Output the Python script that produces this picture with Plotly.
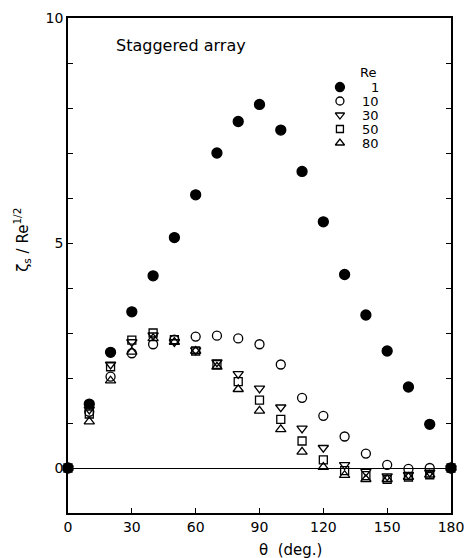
import plotly.graph_objects as go

theta = [0, 10, 20, 30, 40, 50, 60, 70, 80, 90, 100, 110, 120, 130, 140, 150, 160, 170, 180]
re_labels = ["1", "10", "30", "50", "80"]
re1 = [0, 1.42, 2.57, 3.47, 4.27, 5.12, 6.07, 7.0, 7.7, 8.08, 7.51, 6.59, 5.47, 4.3, 3.4, 2.6, 1.8, 0.97, 0]
re10 = [0, 1.25, 2.03, 2.55, 2.75, 2.85, 2.92, 2.94, 2.88, 2.75, 2.3, 1.56, 1.16, 0.7, 0.32, 0.07, -0.02, 0.0, 0]
re30 = [0, 1.3, 2.3, 2.8, 2.95, 2.8, 2.62, 2.35, 2.09, 1.77, 1.35, 0.88, 0.45, 0.07, -0.08, -0.18, -0.15, -0.1, 0]
re50 = [0, 1.2, 2.25, 2.84, 3.0, 2.85, 2.6, 2.3, 1.92, 1.51, 1.08, 0.6, 0.18, -0.06, -0.17, -0.25, -0.2, -0.15, 0]
re80 = [0, 1.03, 1.94, 2.58, 2.88, 2.8, 2.6, 2.25, 1.75, 1.27, 0.86, 0.36, 0.02, -0.16, -0.25, -0.25, -0.2, -0.15, 0]
x_ticks = [0, 30, 60, 90, 120, 150, 180]
y_ticks = [0, 5, 10]
y_minor_ticks = [1, 2, 3, 4, 6, 7, 8, 9]

series = [re1, re10, re30, re50, re80]
symbols = ["circle", "circle-open", "triangle-down-open", "square-open", "triangle-up-open"]
sizes = [10, 9, 9, 8, 9]

FONT = "DejaVu Sans"
fig = go.Figure()

for vals, sym, sz, lab in zip(series, symbols, sizes, re_labels):
    fig.add_trace(go.Scatter(
        x=theta, y=vals, mode="markers", name=lab, showlegend=False,
        marker=dict(symbol=sym, size=sz, color="black", line=dict(width=1.3, color="black")),
        cliponaxis=False,
    ))

# legend key markers drawn on a hidden helper axis
rows = list(range(len(re_labels)))
for i, (sym, sz) in enumerate(zip(symbols, sizes)):
    fig.add_trace(go.Scatter(
        x=[0], y=[rows[i]], mode="markers", showlegend=False, xaxis="x2", yaxis="y2",
        marker=dict(symbol=sym, size=sz - 1, color="black", line=dict(width=1.3, color="black")),
    ))
    fig.add_annotation(x=0.817, y=rows[i], xref="paper", yref="y2", text=re_labels[i],
                       showarrow=False, xanchor="right", yanchor="middle",
                       font=dict(family=FONT, size=13, color="black"))

fig.add_annotation(x=0.758, y=0.889, xref="paper", yref="paper", text="Re",
                   showarrow=False, xanchor="left", yanchor="middle",
                   font=dict(family=FONT, size=13, color="black"))

fig.add_annotation(x=0.12, y=0.945, xref="paper", yref="paper", text="Staggered array",
                   showarrow=False, xanchor="left", yanchor="middle",
                   font=dict(family=FONT, size=16, color="black"))

fig.add_annotation(x=-0.12, y=0.552, xref="paper", yref="paper",
                   text="ζ<sub>s</sub> / Re<sup>1/2</sup>", textangle=-90,
                   showarrow=False, xanchor="center", yanchor="middle",
                   font=dict(family=FONT, size=15, color="black"))

fig.add_annotation(x=0.582, y=-0.075, xref="paper", yref="paper",
                   text="θ  (deg.)", showarrow=False, xanchor="center", yanchor="middle",
                   font=dict(family=FONT, size=15, color="black"))

fig.update_layout(
    width=467, height=558,
    margin=dict(l=68, r=16, t=18, b=45),
    paper_bgcolor="white", plot_bgcolor="white",
    font=dict(family=FONT, size=14, color="black"),
    xaxis=dict(range=[0, 180], tickmode="array", tickvals=x_ticks, automargin=False,
               ticks="inside", ticklen=5, tickwidth=1.3, tickcolor="black",
               showline=True, linecolor="black", linewidth=1.5, mirror=True,
               showgrid=False, zeroline=False),
    yaxis=dict(range=[-1, 10], tickmode="array", tickvals=y_ticks, automargin=False,
               ticks="inside", ticklen=5, tickwidth=1.3, tickcolor="black",
               minor=dict(tickmode="array", tickvals=y_minor_ticks, ticks="inside",
                          ticklen=5, tickwidth=1.3, tickcolor="black", showgrid=False),
               showline=True, linecolor="black", linewidth=1.5, mirror="ticks",
               showgrid=False, zeroline=True, zerolinecolor="black", zerolinewidth=1),
    xaxis2=dict(domain=[0.69, 0.73], range=[-1, 1], visible=False, anchor="y2"),
    yaxis2=dict(domain=[0.7333, 0.8747], range=[4.5, -0.5], visible=False, anchor="x2"),
)

fig.write_html(
    "out.html",
    config={"displayModeBar": False},
    post_script="document.body.style.margin='0';document.body.style.overflow='hidden';",
)
